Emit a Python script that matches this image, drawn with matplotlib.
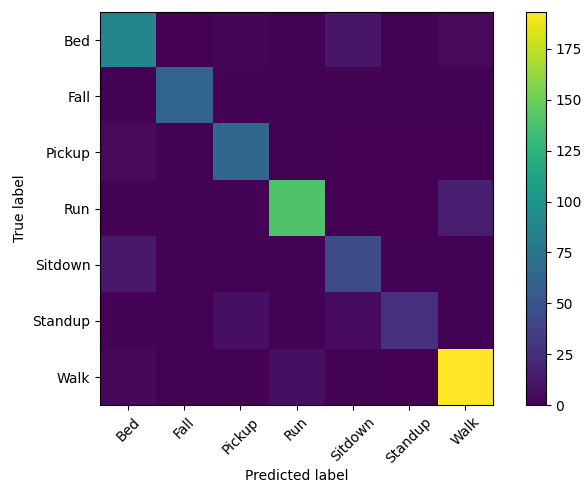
import numpy as np
import matplotlib.pyplot as plt

classes = ["Bed", "Fall", "Pickup", "Run", "Sitdown", "Standup", "Walk"]

row_bed = [88, 0, 3, 1, 12, 1, 5]
row_fall = [1, 62, 2, 1, 1, 1, 1]
row_pickup = [5, 1, 65, 1, 0, 0, 0]
row_run = [1, 1, 2, 140, 0, 0, 16]
row_sitdown = [13, 1, 1, 1, 45, 2, 1]
row_standup = [2, 1, 8, 1, 6, 27, 1]
row_walk = [4, 1, 1, 7, 1, 0, 193]

cm = np.array([row_bed, row_fall, row_pickup, row_run,
               row_sitdown, row_standup, row_walk])

fig = plt.figure(figsize=(5.85, 4.83), dpi=100)
ax = fig.add_axes([0.171, 0.161, 0.672, 0.814])
im = ax.imshow(cm, interpolation='nearest', cmap='viridis')
cax = fig.add_axes([0.899, 0.161, 0.034, 0.814])
fig.colorbar(im, cax=cax)

ticks = np.arange(len(classes))
ax.set_xticks(ticks)
ax.set_xticklabels(classes, rotation=45)
ax.set_yticks(ticks)
ax.set_yticklabels(classes)
ax.set_ylabel('True label')
ax.set_xlabel('Predicted label', labelpad=2)

fig.savefig('out.png', dpi=100)
